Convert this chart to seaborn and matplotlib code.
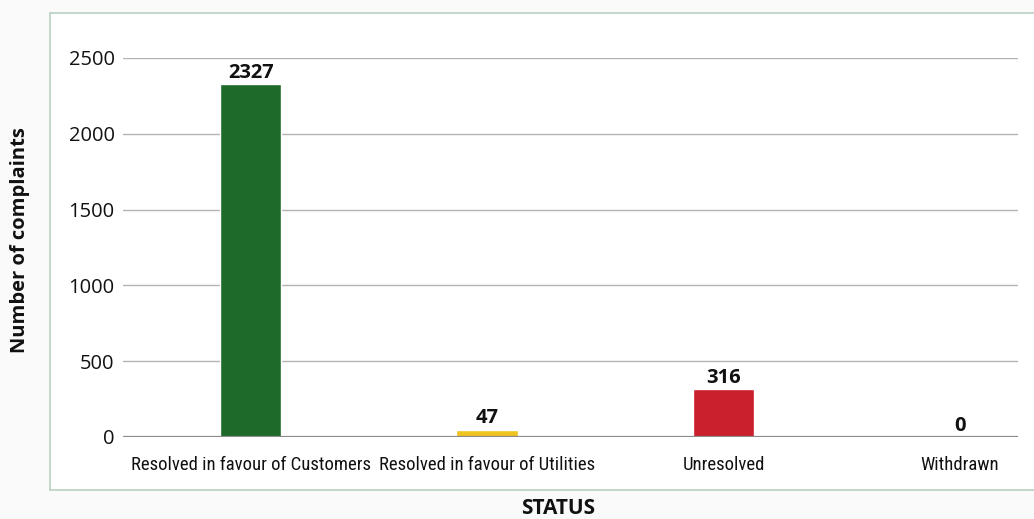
import matplotlib

matplotlib.use("Agg")

import matplotlib.pyplot as plt
import pandas as pd
import seaborn as sns
from matplotlib import font_manager
from matplotlib.patches import Rectangle

STATUSES = [
    "Resolved in favour of Customers",
    "Resolved in favour of Utilities",
    "Unresolved",
    "Withdrawn",
]
COMPLAINTS = [2327, 47, 316, 0]
BAR_COLORS = ["#1d6a2b", "#f0c320", "#c9202b", "#888888"]
Y_TICKS = [0, 500, 1000, 1500, 2000, 2500]

REGULAR = ["Open Sans", "DejaVu Sans"]


def narrow_family() -> list[str]:
    names = {f.name for f in font_manager.fontManager.ttflist}
    for name in ["Liberation Sans Narrow", "Roboto Condensed", "Open Sans Condensed"]:
        if name in names:
            return [name, "DejaVu Sans"]
    return ["Liberation Sans", "DejaVu Sans"]


def main() -> None:
    sns.set_theme(style="white")
    plt.rcParams["font.family"] = REGULAR
    narrow = narrow_family()

    df = pd.DataFrame({"status": STATUSES, "complaints": COMPLAINTS})

    fig = plt.figure(figsize=(10.34, 5.19), dpi=100)
    fig.patch.set_facecolor("#fafafa")
    frame = Rectangle((50 / 1034, 1 - 490 / 519), 1.0, (490 - 13) / 519,
                      transform=fig.transFigure, facecolor="white",
                      edgecolor="#b9d0c2", linewidth=1.2, zorder=-5)
    fig.add_artist(frame)

    ax = fig.add_axes([123 / 1034, 1 - 437 / 519, (1018 - 123) / 1034, (437 - 58) / 519])
    ax.set_facecolor("none")
    sns.barplot(
        data=df, x="status", y="complaints", hue="status",
        palette=dict(zip(STATUSES, BAR_COLORS)), legend=False,
        width=0.26, saturation=1, ax=ax, zorder=3,
    )
    ax.set_ylim(0, 2500)
    ax.set_xlim(-0.54, 3.245)
    ax.set_yticks(Y_TICKS)
    ax.set_axisbelow(True)
    ax.yaxis.grid(True, color="#b3b3b3", linewidth=1.0)
    ax.axhline(0, color="#8c8c8c", linewidth=1.6, zorder=4)
    for side in ["top", "right", "left", "bottom"]:
        ax.spines[side].set_visible(False)
    ax.tick_params(axis="y", length=0, pad=6, labelsize=14.5, labelcolor="#111111")
    ax.tick_params(axis="x", length=0, pad=14, labelcolor="#111111")
    for lbl in ax.get_xticklabels():
        lbl.set_fontfamily(narrow)
        lbl.set_fontsize(13.5)
    ax.set_xlabel("")
    ax.set_ylabel("")

    for container in ax.containers:
        ax.bar_label(container, fmt="%d", padding=1, fontsize=14.5,
                     fontweight="bold", color="#111111")

    fig.text(20 / 1034, 1 - 240 / 519, "Number of complaints", rotation=90,
             ha="center", va="center", fontsize=14.5, fontweight="bold", color="#111111")
    fig.text(558 / 1034, 1 - 509 / 519, "STATUS", ha="center", va="center",
             fontsize=15, fontweight="bold", color="#111111")

    fig.savefig("out.png", dpi=100, facecolor=fig.get_facecolor())
    plt.close(fig)


if __name__ == "__main__":
    main()
